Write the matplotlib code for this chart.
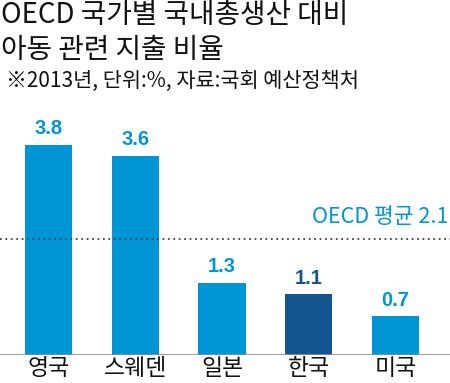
import matplotlib
matplotlib.use("Agg")
import matplotlib.pyplot as plt

plt.rcParams['font.family'] = ['Noto Sans CJK KR', 'DejaVu Sans']

# -----------------------------------
# Data
# -----------------------------------
countries = ["영국", "스웨덴", "일본", "한국", "미국"]
values = [3.8, 3.6, 1.3, 1.1, 0.7]
oecd_avg = 2.1
title_lines = ["OECD 국가별 국내총생산 대비", "아동 관련 지출 비율"]
subtitle = "※2013년, 단위:%, 자료:국회 예산정책처"

light = "#0096d6"
dark = "#12558f"
colors = [dark if c == "한국" else light for c in countries]

# -----------------------------------
# Figure
# -----------------------------------
W, H = 450, 383
fig = plt.figure(figsize=(W / 100, H / 100), dpi=100)
ax = fig.add_axes([0, 28 / H, 1, 255 / H])

xs = list(range(len(countries)))
ax.bar(xs, values, width=0.542, color=colors, zorder=2)
ax.set_xlim(-0.559, 4.628)
ax.set_ylim(0, 255 / 55.3)

for x, v, c in zip(xs, values, colors):
    ax.text(x, v + 0.12, f"{v}", ha="center", va="bottom",
            fontsize=14.5, fontweight="bold", color=c, family="Liberation Sans")

ax.axhline(0, color="#8c8c8c", lw=1.2, zorder=3)
ax.axhline(oecd_avg, color="#444444", lw=1.3, ls=(0, (1, 2)), zorder=3)
ax.text(4.61, oecd_avg + 0.2, f"OECD 평균 {oecd_avg}", ha="right", va="bottom",
        fontsize=15.5, color=light)

for x, name in zip(xs, countries):
    ax.text(x, -0.04, name, ha="center", va="top", fontsize=16.5, color="#111111")

ax.axis("off")

# -----------------------------------
# Titles
# -----------------------------------
fig.text(1 / W, 1 - 15 / H, title_lines[0], ha="left", va="center",
         fontsize=20, color="#111111")
fig.text(1 / W, 1 - 50 / H, title_lines[1], ha="left", va="center",
         fontsize=20, color="#111111")
fig.text(6 / W, 1 - 81 / H, subtitle, ha="left", va="center",
         fontsize=15, color="#111111")

fig.savefig("out.png", dpi=100)
